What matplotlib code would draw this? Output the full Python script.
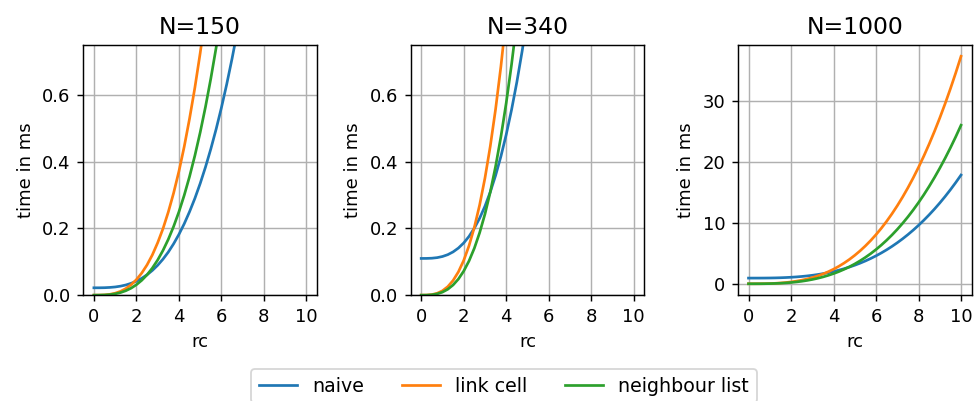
import numpy as np
import matplotlib
matplotlib.use("Agg")
import matplotlib.pyplot as plt

rc = [0.0, 0.25, 0.5, 0.75, 1.0, 1.25, 1.5, 1.75, 2.0, 2.25, 2.5, 2.75, 3.0, 3.25,
      3.5, 3.75, 4.0, 4.25, 4.5, 4.75, 5.0, 5.25, 5.5, 5.75, 6.0, 6.25, 6.5, 6.75,
      7.0, 7.25, 7.5, 7.75, 8.0, 8.25, 8.5, 8.75, 9.0, 9.25, 9.5, 9.75, 10.0]

titles = ["N=150", "N=340", "N=1000"]
series_names = ["naive", "link cell", "neighbour list"]

# N=150
naive_150 = [0.022, 0.022, 0.0223, 0.0231, 0.0245, 0.0269, 0.0304, 0.0354, 0.042, 0.0505,
             0.061, 0.074, 0.0895, 0.1078, 0.129, 0.1538, 0.182, 0.2139, 0.250, 0.2899,
             0.3345, 0.3838, 0.438, 0.4973, 0.562, 0.6324, 0.709, 0.7909, 0.880, 0.9747,
             1.077, 1.1857, 1.302, 1.4258, 1.557, 1.6968, 1.845, 2.0006, 2.165, 2.3391, 2.522]
link_150 = [0.0, 0.0001, 0.0007, 0.0024, 0.0058, 0.0113, 0.0196, 0.0311, 0.0464, 0.0661,
            0.0906, 0.1206, 0.157, 0.1991, 0.249, 0.3059, 0.371, 0.4452, 0.529, 0.6216,
            0.725, 0.8393, 0.965, 1.1026, 1.253, 1.416, 1.593, 1.7838, 1.989, 2.2103,
            2.447, 2.6998, 2.970, 3.2568, 3.562, 3.8855, 4.228, 4.5904, 4.973, 5.3758, 5.8]
neigh_150 = [0.0, 0.0001, 0.0005, 0.0016, 0.0039, 0.0076, 0.0132, 0.0209, 0.0312, 0.0444,
             0.0609, 0.0811, 0.1053, 0.1339, 0.1672, 0.2057, 0.2496, 0.2994, 0.3554, 0.418,
             0.4875, 0.5643, 0.6489, 0.7414, 0.8424, 0.9521, 1.071, 1.1994, 1.338, 1.4862,
             1.645, 1.8154, 1.997, 2.1899, 2.395, 2.6127, 2.843, 3.0867, 3.344, 3.6147, 3.9]

# N=340
naive_340 = [0.11, 0.1101, 0.1107, 0.1124, 0.1158, 0.1213, 0.1296, 0.1411, 0.1564, 0.1761,
             0.2006, 0.2306, 0.2666, 0.3091, 0.3587, 0.4159, 0.4812, 0.5552, 0.6385, 0.7316,
             0.835, 0.9493, 1.075, 1.2126, 1.363, 1.526, 1.703, 1.8938, 2.099, 2.3203,
             2.557, 2.8098, 3.080, 3.3668, 3.672, 3.9955, 4.338, 4.7004, 5.083, 5.4858, 5.91]
link_340 = [0.0, 0.0002, 0.0016, 0.0055, 0.013, 0.0254, 0.0439, 0.0697, 0.104, 0.1481,
            0.2031, 0.2704, 0.351, 0.4463, 0.5574, 0.6855, 0.832, 0.998, 1.185, 1.3932,
            1.625, 1.8811, 2.163, 2.4714, 2.808, 3.1738, 3.570, 3.9981, 4.459, 4.954,
            5.484, 6.0513, 6.656, 7.2997, 7.984, 8.709, 9.477, 10.2889, 11.146, 12.0492, 13.0]
neigh_340 = [0.0, 0.0001, 0.0011, 0.0038, 0.009, 0.0176, 0.0304, 0.0482, 0.072, 0.1025,
             0.1406, 0.1872, 0.243, 0.309, 0.3859, 0.4746, 0.576, 0.6909, 0.820, 0.9645,
             1.125, 1.3023, 1.497, 1.711, 1.944, 2.1973, 2.472, 2.7679, 3.087, 3.4297,
             3.797, 4.1894, 4.608, 5.0536, 5.527, 6.0293, 6.561, 7.1231, 7.716, 8.3417, 9.0]

# N=1000
naive_1000 = [0.93, 0.9303, 0.932, 0.9371, 0.947, 0.963, 0.987, 1.0206, 1.065, 1.1225,
              1.194, 1.2815, 1.386, 1.5101, 1.655, 1.8212, 2.012, 2.2273, 2.470, 2.7412,
              3.043, 3.3755, 3.742, 4.1428, 4.580, 5.056, 5.571, 6.1275, 6.727, 7.3702,
              8.060, 8.7967, 9.583, 10.4196, 11.309, 12.2517, 13.250, 14.3056, 15.420, 16.5939, 17.83]
link_1000 = [0.0, 0.0006, 0.0047, 0.0157, 0.0373, 0.0729, 0.126, 0.1999, 0.298, 0.4249,
             0.583, 0.7757, 1.007, 1.2804, 1.599, 1.967, 2.387, 2.8634, 3.399, 3.9975,
             4.663, 5.3974, 6.206, 7.0911, 8.057, 9.1064, 10.244, 11.4715, 12.794, 14.2142,
             15.736, 17.3626, 19.098, 20.9445, 22.907, 24.9881, 27.192, 29.5212, 31.980, 34.5718, 37.3]
neigh_1000 = [0.0, 0.0004, 0.0033, 0.011, 0.026, 0.0508, 0.0878, 0.1393, 0.208, 0.2962,
              0.406, 0.5407, 0.702, 0.8925, 1.115, 1.3711, 1.664, 1.9959, 2.369, 2.7865,
              3.25, 3.7623, 4.326, 4.9428, 5.616, 6.3477, 7.140, 7.9962, 8.918, 9.908,
              10.969, 12.1026, 13.312, 14.5994, 15.967, 17.418, 18.954, 20.5778, 22.292, 24.0983, 26.0]

panels = [
    (naive_150, link_150, neigh_150),
    (naive_340, link_340, neigh_340),
    (naive_1000, link_1000, neigh_1000),
]
ylims = [(0, 0.75), (0, 0.75), None]
colors = ["#1f77b4", "#ff7f0e", "#2ca02c"]

DPI = 130
fig, axes = plt.subplots(1, 3, figsize=(974 / DPI, 401 / DPI), dpi=DPI)
fig.subplots_adjust(left=0.0855, right=0.9976, top=0.888, bottom=0.264, wspace=0.4)

lines = []
for ax, title, data, yl in zip(axes, titles, panels, ylims):
    for vals, name, c in zip(data, series_names, colors):
        ln, = ax.plot(rc, vals, color=c, lw=1.5, label=name)
        if ax is axes[0]:
            lines.append(ln)
    ax.set_title(title, fontsize=13)
    ax.set_xlabel("rc")
    ax.set_ylabel("time in ms")
    ax.grid(True)
    ax.set_xticks([0, 2, 4, 6, 8, 10])
    if yl is not None:
        ax.set_ylim(*yl)
        ax.set_yticks([0.0, 0.2, 0.4, 0.6])
    ax.set_xlim(-0.5, 10.5)

fig.legend(lines, series_names, loc="upper center", ncol=3,
           bbox_to_anchor=(504 / 974, 1 - 359.5 / 401), fontsize=10.5,
           frameon=True)

fig.savefig("out.png", dpi=DPI)
